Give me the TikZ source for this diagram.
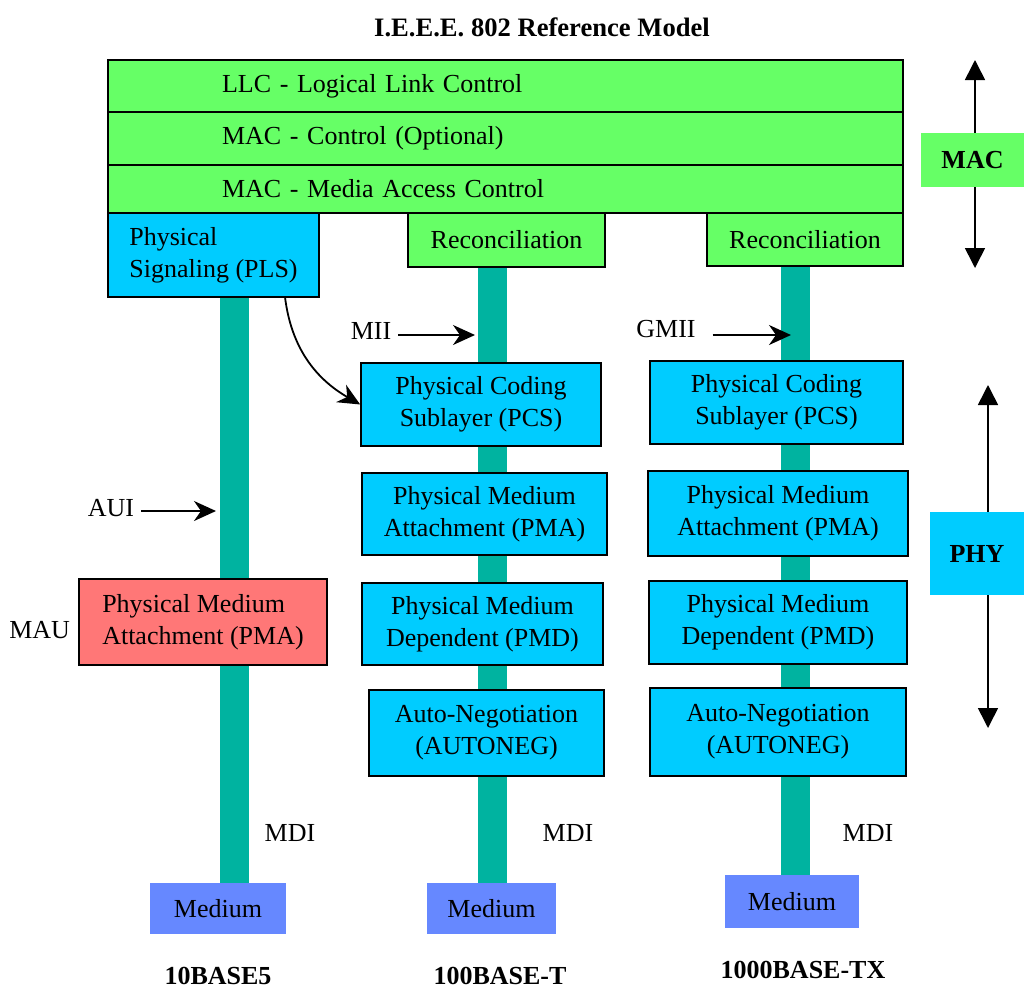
\documentclass[tikz,border=0pt]{standalone}
\usepackage{fontspec}
\setmainfont{Liberation Serif}
\usepackage{tikz}
\usetikzlibrary{arrows.meta,backgrounds}
\definecolor{gr}{RGB}{102,255,102}
\definecolor{cy}{RGB}{0,204,255}
\definecolor{rd}{RGB}{255,119,119}
\definecolor{tl}{RGB}{0,179,160}
\definecolor{mb}{RGB}{102,136,255}

\begin{document}
\begin{tikzpicture}[x = 0.5pt, y = -0.5pt, font = \fontsize{13}{16}\selectfont,
  box/.style = {draw = black, line width = 0.8pt, inner sep = 0pt, align = center},
  row/.style = {box, fill = gr, minimum width = 397.5pt, text width = 283.5pt, inner xsep = 57pt, align = left},
  cbox/.style = {box, fill = cy},
  med/.style = {fill = mb, inner sep = 0pt},
  bar/.style = {tl, line width = 14.5pt},
  big/.style = {-{Triangle[width = 10pt, length = 10pt]}, line width = 0.8pt},
  small/.style = {-{Stealth[width = 10pt, length = 11pt, inset = 3.5pt]}, line width = 0.9pt}]
\useasboundingbox (0,0) rectangle (1024,992);
\node[font = \fontsize{13.3}{16}\selectfont\bfseries] (title) at (542,27) {I.E.E.E. 802 Reference Model};
\node[row, minimum height = 26pt] (llc) at (505.5,86) {LLC - Logical Link Control};
\node[row, minimum height = 26.5pt] (ctl) at (505.5,138.5) {MAC - Control (Optional)};
\node[row, minimum height = 24pt] (mac) at (505.5,189) {MAC - Media Access Control};
\node[cbox, minimum width = 105.5pt, minimum height = 42pt, align = left] (pls) at (213.5,255) {Physical\\Signaling (PLS)};
\node[box, fill = gr, minimum width = 98.5pt, minimum height = 27pt] (rec1) at (506.5,240) {Reconciliation};
\node[box, fill = gr, minimum width = 98pt, minimum height = 26.5pt] (rec2) at (805,239.5) {Reconciliation};
\node[cbox, minimum width = 120pt, minimum height = 41.5pt] (pcs2) at (481,404.5) {Physical Coding\\Sublayer (PCS)};
\node[cbox, minimum width = 126.5pt, minimum height = 41.5pt] (pcs3) at (776.5,402.5) {Physical Coding\\Sublayer (PCS)};
\node[cbox, minimum width = 122.5pt, minimum height = 41pt] (pma2) at (484.5,514) {Physical Medium\\Attachment (PMA)};
\node[cbox, minimum width = 130pt, minimum height = 42.5pt] (pma3) at (778,513.5) {Physical Medium\\Attachment (PMA)};
\node[cbox, minimum width = 120.5pt, minimum height = 41pt] (pmd2) at (482.5,624) {Physical Medium\\Dependent (PMD)};
\node[cbox, minimum width = 129pt, minimum height = 41.5pt] (pmd3) at (778,622.5) {Physical Medium\\Dependent (PMD)};
\node[cbox, minimum width = 117.5pt, minimum height = 43pt] (an2) at (486.5,733) {Auto-Negotiation\\(AUTONEG)};
\node[cbox, minimum width = 128pt, minimum height = 44pt] (an3) at (778,732) {Auto-Negotiation\\(AUTONEG)};
\node[box, fill = rd, minimum width = 124pt, minimum height = 43pt, align = left] (mau) at (203,622) {Physical Medium\\Attachment (PMA)};
\node[med, minimum width = 68pt, minimum height = 25.5pt] (med1) at (218,908.5) {Medium};
\node[med, minimum width = 64.5pt, minimum height = 25.5pt] (med2) at (491.5,908.5) {Medium};
\node[med, minimum width = 67pt, minimum height = 26.5pt] (med3) at (792,901.5) {Medium};
\coordinate (c1) at (234,0);
\coordinate (c2) at (492,0);
\coordinate (c3) at (795,0);
\begin{scope}[on background layer]
\draw[bar] (pls.south -| c1) -- (med1.north -| c1);
\draw[bar] (rec1.south -| c2) -- (med2.north -| c2);
\draw[bar] (rec2.south -| c3) -- (med3.north -| c3);
\end{scope}
\node (aui) at (111,508) {AUI};
\node (mii) at (371,331) {MII};
\node (gmii) at (666,329) {GMII};
\node[anchor = east] (maul) at (77,630) {MAU};
\coordinate (auit) at (216,511);
\coordinate (miit) at (475,335);
\coordinate (gmiit) at (791,335);
\draw[small] (aui.east |- auit) -- (auit);
\draw[small] (mii.east |- miit) -- (miit);
\draw[small] ([xshift = 5pt]gmii.east |- gmiit) -- (gmiit);
\coordinate (plsout) at (285,297);
\draw[small] (plsout) to[out = -83, in = 150] (pcs2.west);
\node (mdi1) at (290,833) {MDI};
\node (mdi2) at (568,833) {MDI};
\node (mdi3) at (868,833) {MDI};
\node[font = \fontsize{13}{16}\selectfont\bfseries] (b1) at (218,976) {10BASE5};
\node[font = \fontsize{13}{16}\selectfont\bfseries] (b2) at (500,976) {100BASE-T};
\node[font = \fontsize{13}{16}\selectfont\bfseries] (b3) at (803,970) {1000BASE-TX};
\node[fill = gr, minimum width = 51.5pt, minimum height = 27pt, font = \fontsize{13}{16}\selectfont\bfseries] (maclbl) at (972.5,160) {MAC};
\node[fill = cy, minimum width = 47pt, minimum height = 41.5pt, font = \fontsize{13}{16}\selectfont\bfseries] (phylbl) at (977,553.5) {PHY};
\coordinate (mact) at (975,60);
\coordinate (macb) at (975,268);
\coordinate (phyt) at (988,385);
\coordinate (phyb) at (988,728);
\draw[big] (maclbl.north -| mact) -- (mact);
\draw[big] (maclbl.south -| macb) -- (macb);
\draw[big] (phylbl.north -| phyt) -- (phyt);
\draw[big] (phylbl.south -| phyb) -- (phyb);
\end{tikzpicture}
\end{document}
